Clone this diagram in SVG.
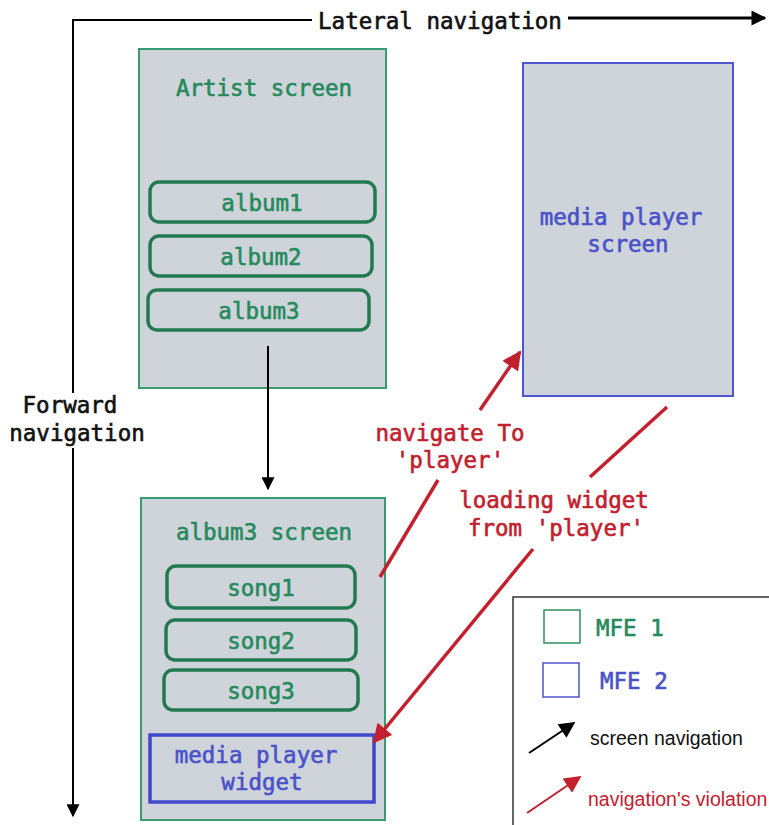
<svg xmlns="http://www.w3.org/2000/svg" width="769" height="825" viewBox="0 0 769 825">
<defs>
<style>
.mono{font-family:"DejaVu Sans Mono","Liberation Mono",monospace;font-size:22.5px;stroke-width:0.6px;}
.g{fill:#268a5c;stroke:#268a5c;}
.b{fill:#4a52c9;stroke:#4a52c9;}
.r{fill:#c3202e;stroke:#c3202e;}
.k{fill:#111;stroke:#111;}
.sans{font-family:"Liberation Sans",Arial,sans-serif;font-size:19.5px;stroke:none;}
.screen{fill:#cfd4db;stroke-width:2;}
.item{fill:none;stroke:#237a50;stroke-width:3.5;}
</style>
<marker id="akL" viewBox="0 0 10 10" refX="9" refY="5" markerWidth="22" markerHeight="15" orient="auto" markerUnits="userSpaceOnUse"><path d="M0,0 L10,5 L0,10 z" fill="#000"/></marker>
<marker id="ak2" viewBox="0 0 10 10" refX="9" refY="5" markerWidth="15" markerHeight="13" orient="auto" markerUnits="userSpaceOnUse"><path d="M0,0 L10,5 L0,10 z" fill="#000"/></marker>
<marker id="ak3" viewBox="0 0 10 10" refX="9" refY="5" markerWidth="19" markerHeight="16" orient="auto" markerUnits="userSpaceOnUse"><path d="M0,0 L10,5 L0,10 z" fill="#000"/></marker>
<marker id="ar" viewBox="0 0 10 10" refX="9" refY="5" markerWidth="21" markerHeight="19" orient="auto" markerUnits="userSpaceOnUse"><path d="M0,0 L10,5 L0,10 z" fill="#c3202e"/></marker>
<marker id="ar2" viewBox="0 0 10 10" refX="9" refY="5" markerWidth="20" markerHeight="17" orient="auto" markerUnits="userSpaceOnUse"><path d="M0,0 L10,5 L0,10 z" fill="#c3202e"/></marker>
</defs>
<rect width="769" height="825" fill="#fff"/>

<g id="axes">
<path d="M73,393 L73,20 L312,20" fill="none" stroke="#000" stroke-width="2"/>
<path d="M568,18 L765,18" fill="none" stroke="#000" stroke-width="3" marker-end="url(#akL)"/>
<path d="M73,448 L73,816" fill="none" stroke="#000" stroke-width="2" marker-end="url(#ak2)"/>
<text class="mono k" x="440" y="29" text-anchor="middle">Lateral navigation</text>
<text class="mono k" x="70" y="413" text-anchor="middle">Forward</text>
<text class="mono k" x="77" y="441" text-anchor="middle">navigation</text>
</g>

<g id="artist-screen">
<rect class="screen" x="139" y="49" width="247" height="339" stroke="#3a9a70"/>
<text class="mono g" x="264" y="96" text-anchor="middle">Artist screen</text>
</g>
<g id="album1"><rect class="item" x="150" y="182" width="225" height="40" rx="9"/><text class="mono g" x="262" y="211" text-anchor="middle">album1</text></g>
<g id="album2"><rect class="item" x="150" y="236" width="222" height="40" rx="9"/><text class="mono g" x="261" y="265" text-anchor="middle">album2</text></g>
<g id="album3"><rect class="item" x="148" y="290" width="221" height="40" rx="9"/><text class="mono g" x="259" y="319" text-anchor="middle">album3</text></g>

<g id="media-player-screen">
<rect class="screen" x="523" y="63" width="210" height="333" stroke="#4d55d0"/>
<text class="mono b" x="621" y="225" text-anchor="middle">media player</text>
<text class="mono b" x="628" y="252" text-anchor="middle">screen</text>
</g>

<g id="album3-screen">
<rect class="screen" x="141" y="498" width="244" height="322" stroke="#3a9a70"/>
<text class="mono g" x="264" y="540" text-anchor="middle">album3 screen</text>
</g>
<g id="song1"><rect class="item" x="167" y="566" width="188" height="42" rx="9"/><text class="mono g" x="261" y="596" text-anchor="middle">song1</text></g>
<g id="song2"><rect class="item" x="166" y="620" width="190" height="40" rx="9"/><text class="mono g" x="261" y="649" text-anchor="middle">song2</text></g>
<g id="song3"><rect class="item" x="164" y="670" width="194" height="40" rx="9"/><text class="mono g" x="261" y="699" text-anchor="middle">song3</text></g>
<g id="media-player-widget">
<rect x="150" y="735" width="224" height="67" fill="none" stroke="#4048cc" stroke-width="3.5"/>
<text class="mono b" x="256" y="763" text-anchor="middle">media player</text>
<text class="mono b" x="262" y="790" text-anchor="middle">widget</text>
</g>

<g id="connectors">
<path d="M268,346 L268,489" fill="none" stroke="#000" stroke-width="2" marker-end="url(#ak2)"/>
<path d="M380,577 L438,480" fill="none" stroke="#c3202e" stroke-width="3.5"/>
<path d="M480,410 L520,352" fill="none" stroke="#c3202e" stroke-width="3.5" marker-end="url(#ar)"/>
<text class="mono r" x="450" y="441" text-anchor="middle">navigate To</text>
<text class="mono r" x="450" y="468" text-anchor="middle">'player'</text>
<path d="M667,407 L590,477" fill="none" stroke="#c3202e" stroke-width="3.5"/>
<path d="M533,549 L374,742" fill="none" stroke="#c3202e" stroke-width="3.5" marker-end="url(#ar)"/>
<text class="mono r" x="554" y="508" text-anchor="middle">loading widget</text>
<text class="mono r" x="556" y="536" text-anchor="middle">from 'player'</text>
</g>

<g id="legend">
<rect x="513" y="597" width="262" height="240" fill="#fff" stroke="#333" stroke-width="1.5"/>
<rect x="544" y="610" width="36" height="33" fill="none" stroke="#2e9060" stroke-width="1.5"/>
<text class="mono g" x="596" y="636">MFE 1</text>
<rect x="543" y="663" width="36" height="34" fill="none" stroke="#4d55d0" stroke-width="1.5"/>
<text class="mono b" x="600" y="689">MFE 2</text>
<path d="M529,753 L574,723" fill="none" stroke="#000" stroke-width="2" marker-end="url(#ak3)"/>
<text class="sans k" x="590" y="745">screen navigation</text>
<path d="M527,813 L580,777" fill="none" stroke="#c3202e" stroke-width="2" marker-end="url(#ar2)"/>
<text class="sans r" x="588" y="806">navigation's violation</text>
</g>
</svg>
